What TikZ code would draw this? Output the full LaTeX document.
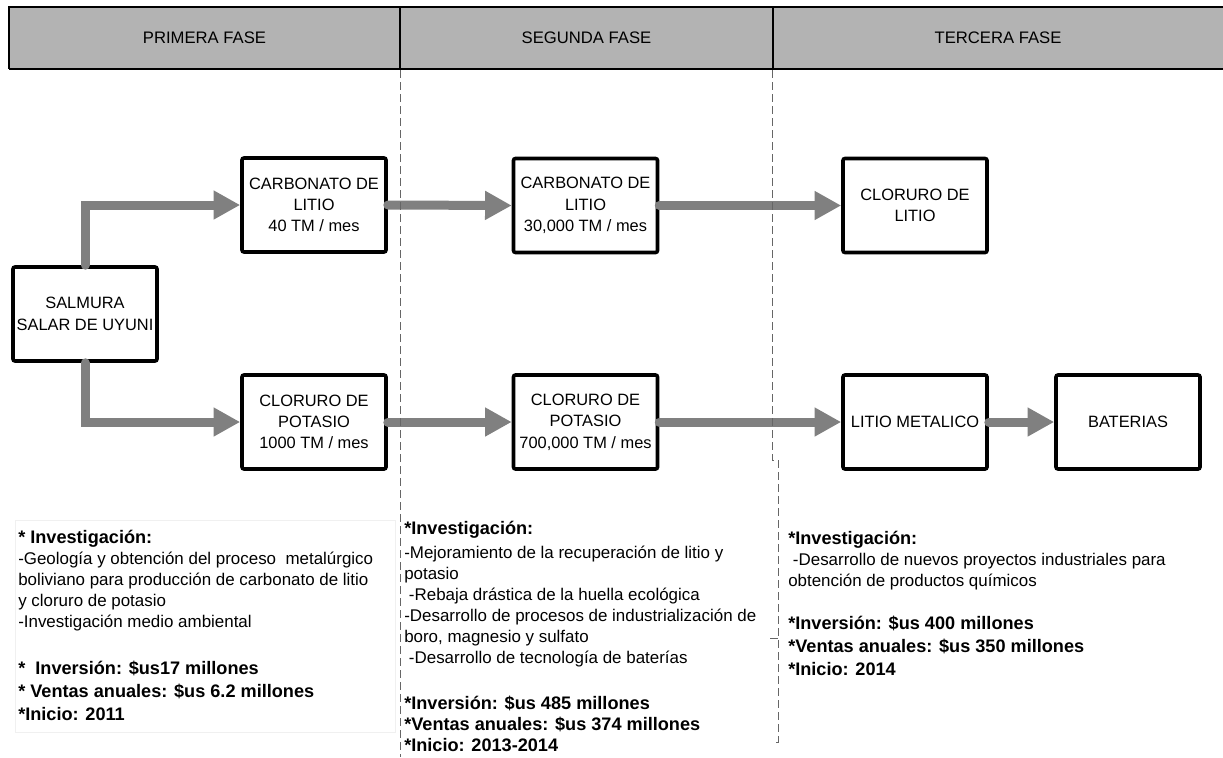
\documentclass[tikz,border=0pt]{standalone}
\usepackage{fontspec}
\setmainfont{Liberation Sans}
\usetikzlibrary{arrows.meta}
\definecolor{hdr}{HTML}{B3B3B3}
\definecolor{arrg}{HTML}{808080}
\definecolor{dashg}{HTML}{666666}
\tikzset{
  px/.style={x=0.75pt,y=-0.75pt},
  fbox/.style={draw=black,line width=2.7pt,fill=white,rounded corners=1.5pt,
    minimum width=108pt,minimum height=70.5pt,align=center,inner sep=1pt,
    font=\fontsize{12.3pt}{16pt}\selectfont},
  arr/.style={draw=arrg,line width=6.75pt,line cap=round,
    -{Triangle[length=20pt,width=20.5pt]}},
  phase/.style={font=\fontsize{12.5pt}{14pt}\selectfont},
  sep/.style={draw=dashg,line width=0.7pt,dash pattern=on 6pt off 3pt},
  info/.style={align=left,anchor=north west,inner sep=0pt,
    font=\fontsize{12.7pt}{15.75pt}\selectfont},
}
\newcommand{\hd}{\fontsize{13.6pt}{15.75pt}\selectfont\bfseries}
\newcommand{\bd}{\fontsize{12.7pt}{15.75pt}\selectfont\mdseries}
\newcommand{\st}{\fontsize{13.6pt}{15.75pt}\selectfont\bfseries}
\begin{document}
\begin{tikzpicture}[px]
\useasboundingbox (0,0) rectangle (1223,757);
% header
\fill[hdr] (9,7) rectangle (1223,69);
\draw[line width=1.4pt] (1223,7) -- (9,7) -- (9,69);
\draw[line width=2.2pt] (9,69) -- (1223,69);
\draw[line width=1.4pt] (400,7) -- (400,69);
\draw[line width=1.4pt] (773,7) -- (773,69);
\node[phase] (p1) at (204.5,38) {PRIMERA FASE};
\node[phase] (p2) at (586.5,38) {SEGUNDA FASE};
\node[phase] (p3) at (998,38) {TERCERA FASE};
% faint box
\draw[gray!12,line width=0.6pt] (15,520) rectangle (395,732);
% boxes
\node[fbox] (salm) at (85,314) {SALMURA\\SALAR DE UYUNI};
\node[fbox] (c1) at (314,205) {CARBONATO DE\\LITIO\\40 TM / mes};
\node[fbox] (k1) at (314,422) {CLORURO DE\\POTASIO\\1000 TM / mes};
\node[fbox] (c2) at (585.5,205.5) {CARBONATO DE\\LITIO\\30,000 TM / mes};
\node[fbox] (k2) at (585.5,422) {CLORURO DE\\POTASIO\\700,000 TM / mes};
\node[fbox] (c3) at (915,205.5) {CLORURO DE\\LITIO};
\node[fbox] (lm) at (915,422) {LITIO METALICO};
\node[fbox] (bat) at (1128,422) {BATERIAS};
% arrows
\draw[arr] (salm.north) |- (c1.west);
\draw[arr] (salm.south) |- (k1.west);
\draw[arr] (c1.east) -- (c2.west);
\draw[arr] (k1.east) -- (k2.west);
\draw[arr] (c2.east) -- (c3.west);
\draw[arr] (k2.east) -- (lm.west);
\draw[arr] (lm.east) -- (bat.west);
% separators
\draw[sep] (400,70) -- (400,757);
\draw[sep] (772,70) -- (772,460) -- (778,460) -- (778,742) -- (773,742);
\draw[sep] (770,638) -- (778,638);
% info texts
\node[info] (t1) at (18,529.5) {\hd * Investigación:\\
\bd -Geología y obtención del proceso\ \ metalúrgico\\
\bd boliviano para producción de carbonato de litio\\
\bd y cloruro de potasio\\
\bd -Investigación medio ambiental\\[19.5pt]
\st *\ \ Inversión: \$us17 millones\\[1.5pt]
\st * Ventas anuales: \$us 6.2 millones\\[1.5pt]
\st *Inicio: 2011};
\node[info] (t2) at (404,521) {\hd *Investigación:\\[2.25pt]
\bd -Mejoramiento de la recuperación de litio y\\
\bd potasio\\
\bd\ -Rebaja drástica de la huella ecológica\\
\bd -Desarrollo de procesos de industrialización de\\
\bd boro, magnesio y sulfato\\
\bd\ -Desarrollo de tecnología de baterías\\[18.75pt]
\st *Inversión: \$us 485 millones\\
\st *Ventas anuales: \$us 374 millones\\
\st *Inicio: 2013-2014};
\node[info] (t3) at (788,530.5) {\hd *Investigación:\\
\bd\ -Desarrollo de nuevos proyectos industriales para\\
\bd obtención de productos químicos\\[16.5pt]
\st *Inversión: \$us 400 millones\\[1.5pt]
\st *Ventas anuales: \$us 350 millones\\[1.5pt]
\st *Inicio: 2014};
\end{tikzpicture}
\end{document}
